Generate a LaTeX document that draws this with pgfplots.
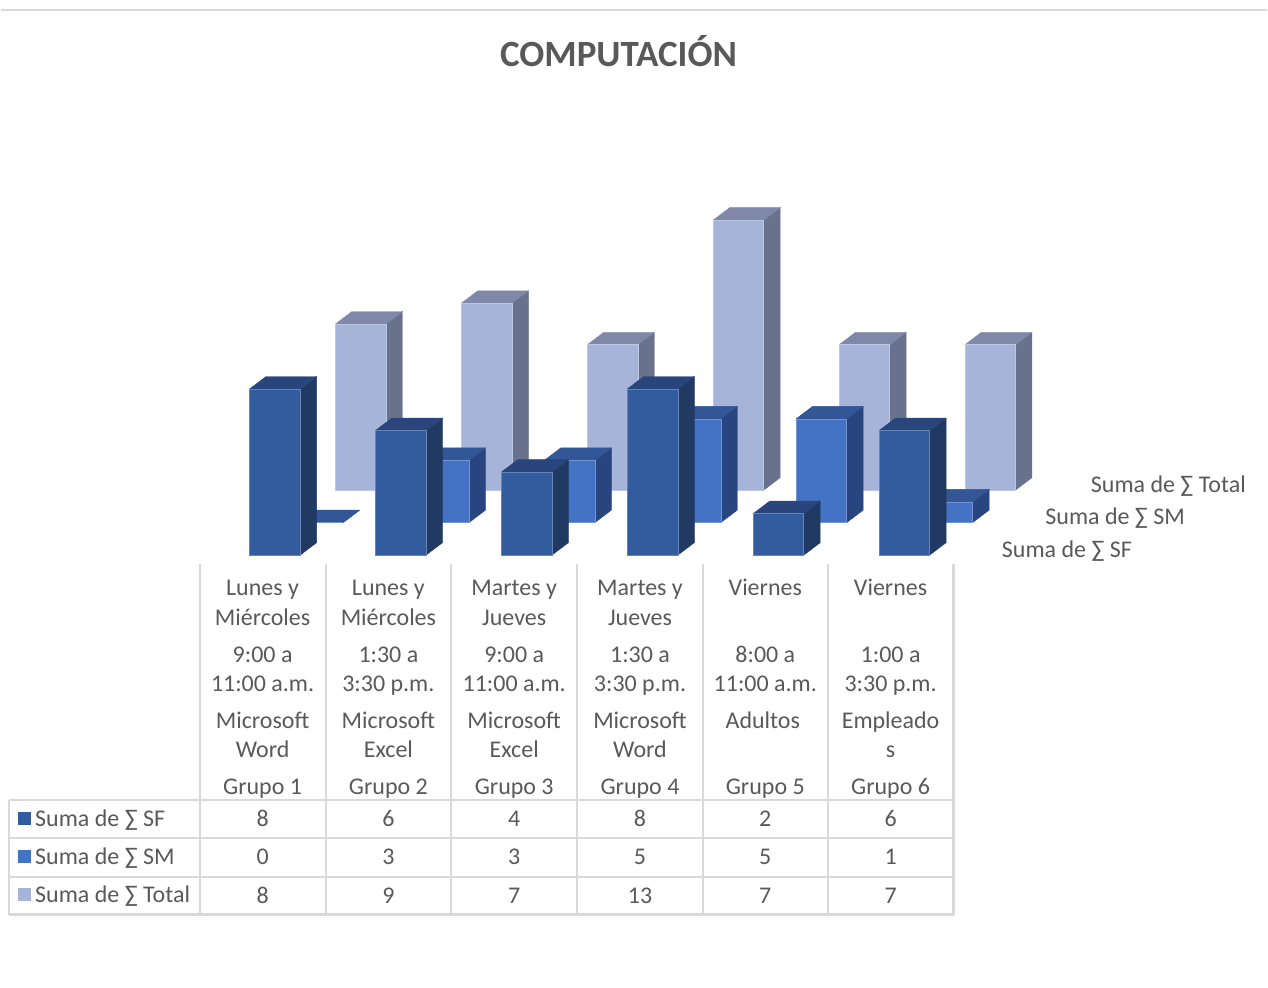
\documentclass[border=0pt]{standalone}
\usepackage{fontspec}
\setmainfont{Carlito}
\usepackage{pgfplots}
\usepackage{pgfplotstable}
\pgfplotsset{compat=1.18}

\definecolor{txt}{HTML}{595959}
\definecolor{grid}{HTML}{D9D9D9}
\definecolor{sffront}{HTML}{335C9F}
\definecolor{sftop}{HTML}{29457B}
\definecolor{sfside}{HTML}{213A63}
\definecolor{smfront}{HTML}{4472C4}
\definecolor{smtop}{HTML}{335696}
\definecolor{smside}{HTML}{29457F}
\definecolor{totfront}{HTML}{A6B4DA}
\definecolor{tottop}{HTML}{7F88A8}
\definecolor{totside}{HTML}{68728C}

% group, then the three series
\pgfplotstableread{
group sf sm total
0 8 0 8
1 6 3 9
2 4 3 7
3 8 5 13
4 2 5 7
5 6 1 7
}\computacion

% x in pixels of the picture, y in chart units (20.8 px per unit)
\newcommand{\barfaces}[4]{% group, depth, value, colour prefix
  \pgfmathsetmacro\xl{249+126.1*#1+43*#2}
  \pgfmathsetmacro\xr{\xl+50.6}
  \pgfmathsetmacro\xb{\xr+16.5}
  \pgfmathsetmacro\xc{\xl+16.5}
  \pgfmathsetmacro\yb{#2*1.565}
  \pgfmathsetmacro\yt{\yb+#3}
  \pgfmathsetmacro\ytb{\yt+0.6}
  \pgfmathsetmacro\ybb{\yb+0.6}
  \edef\temp{%
    \noexpand\addplot[fill=#4side,draw=#4side,line width=0.3pt] coordinates {(\xr,\yb)(\xb,\ybb)(\xb,\ytb)(\xr,\yt)} -- cycle;
    \noexpand\addplot[fill=#4top,draw=#4top,line width=0.3pt] coordinates {(\xl,\yt)(\xc,\ytb)(\xb,\ytb)(\xr,\yt)} -- cycle;
    \noexpand\addplot[fill=#4front,draw=#4front!75!white,line width=0.4pt] coordinates {(\xl,\yb)(\xr,\yb)(\xr,\yt)(\xl,\yt)} -- cycle;
  }\temp
}
\newcommand{\drawseries}[3]{% column, depth, colour prefix
  \pgfplotsinvokeforeach{0,...,5}{%
    \pgfplotstablegetelem{##1}{#1}\of\computacion
    \let\val\pgfplotsretval
    \barfaces{##1}{#2}{\val}{#3}
  }
}

\begin{document}
\begin{tikzpicture}
\begin{axis}[
  scale only axis,
  width=951pt,height=741.75pt,
  xmin=0,xmax=1268,
  ymin=-20.817,ymax=26.731,
  axis lines=none,
  no markers,
  clip=false,
]
\drawseries{total}{2}{tot}
\drawseries{sm}{1}{sm}
\drawseries{sf}{0}{sf}
\end{axis}

\begin{scope}[x=0.75pt,y=-0.75pt,yshift=741pt,
    every node/.style={text=txt,font=\fontsize{18}{20}\selectfont,inner sep=0pt}]
  \path (0,-1) rectangle (1268,988);
  \draw[grid,line width=1.5pt] (0,9.5)--(1268,9.5);
  \node[font=\fontsize{27.8}{30}\selectfont\bfseries] at (618.5,50) {COMPUTACIÓN};

  % depth axis labels
  \node[anchor=east] at (1247,486) {Suma de ∑ Total};
  \node[anchor=east] at (1186,518) {Suma de ∑ SM};
  \node[anchor=east] at (1133,551) {Suma de ∑ SF};

  % data table
  \foreach \x in {199.5,325.5,451,577,703,828,954}
    \draw[grid,line width=1.6pt] (\x,564)--(\x,915);
  \draw[grid,line width=1.6pt] (8,800)--(8,915);
  \foreach \y in {800,838,877,915}
    \draw[grid,line width=1.6pt] (8,\y)--(954,\y);

  \foreach \x/\a/\b/\c/\d/\e/\f/\g in {
    262/Lunes y/Miércoles/9:00 a/11:00 a.m./Microsoft/Word/Grupo 1,
    388/Lunes y/Miércoles/1:30 a/3:30 p.m./Microsoft/Excel/Grupo 2,
    514/Martes y/Jueves/9:00 a/11:00 a.m./Microsoft/Excel/Grupo 3,
    640/Martes y/Jueves/1:30 a/3:30 p.m./Microsoft/Word/Grupo 4,
    765.5/Viernes//8:00 a/11:00 a.m.///Grupo 5,
    891/Viernes//1:00 a/3:30 p.m./Empleado/s/Grupo 6}{
    \node[anchor=base] at (\x,595) {\a};
    \node[anchor=base] at (\x,625) {\b};
    \node[anchor=base] at (\x,663) {\c};
    \node[anchor=base] at (\x,692) {\d};
    \node[anchor=base] at (\x,729) {\e};
    \node[anchor=base] at (\x,758) {\f};
    \node[anchor=base] at (\x,795) {\g};
  }
  \node[anchor=base] at (763,729) {Adultos};
  \foreach \x/\p/\q/\r in {262/8/0/8,388/6/3/9,514/4/3/7,640/8/5/13,765.5/2/5/7,891/6/1/7}{
    \node[anchor=base] at (\x,827) {\p};
    \node[anchor=base] at (\x,865) {\q};
    \node[anchor=base] at (\x,904) {\r};
  }
  \fill[sffront] (17,812) rectangle (30,825);
  \fill[smfront] (17,850) rectangle (30,863);
  \fill[totfront] (17,888) rectangle (30,901);
  \node[anchor=base west] at (34,827) {Suma de ∑ SF};
  \node[anchor=base west] at (34,865) {Suma de ∑ SM};
  \node[anchor=base west] at (34,903) {Suma de ∑ Total};
\end{scope}
\end{tikzpicture}
\end{document}
